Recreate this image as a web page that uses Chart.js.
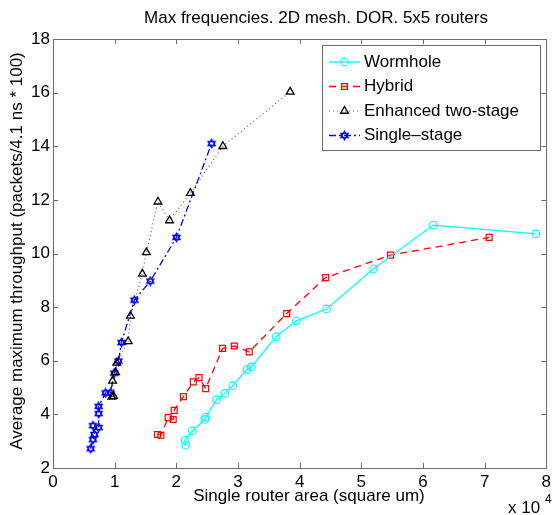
<!DOCTYPE html>
<html>
<head>
<meta charset="utf-8">
<script src="https://cdn.jsdelivr.net/npm/chart.js@4"></script>
<style>
  body { margin: 0; background: #fff; }
  #wrap { width: 555px; height: 515px; }
</style>
</head>
<body>
<div id="wrap"><canvas id="chart" width="555" height="515"></canvas></div>
<script>
// values (area in square um, throughput in packets/4.1ns*100)
const wormholeArea = [21530, 21420, 22600, 24640, 24760, 26530, 27870, 29160, 31460, 32170, 36200, 39470, 44360, 52000, 61670, 78320];
const wormholeThr = [2.85, 3.03, 3.38, 3.81, 3.90, 4.55, 4.78, 5.07, 5.68, 5.77, 6.90, 7.49, 7.93, 9.43, 11.06, 10.73];

const hybridArea = [16960, 17500, 18680, 19490, 19650, 21150, 22760, 23680, 24760, 27500, 29400, 31820, 37910, 44230, 54740, 70740];
const hybridThr = [3.25, 3.22, 3.88, 3.81, 4.15, 4.66, 5.21, 5.37, 4.96, 6.46, 6.55, 6.33, 7.76, 9.10, 9.94, 10.60];

const enhancedArea = [9540, 9820, 9660, 10140, 10350, 12190, 12560, 14490, 15140, 17020, 18890, 22280, 27550, 38460];
const enhancedThr = [4.65, 4.68, 5.25, 5.57, 5.92, 6.72, 7.67, 9.24, 10.04, 11.93, 11.23, 12.25, 14.00, 16.03];

const singleArea = [6110, 6480, 6710, 6480, 7400, 7400, 7400, 8530, 9330, 9930, 10620, 11100, 13200, 15780, 20020, 25730];
const singleThr = [2.72, 3.06, 3.25, 3.58, 3.51, 4.03, 4.30, 4.80, 4.80, 5.54, 5.99, 6.68, 8.26, 8.97, 10.60, 14.10];

const xTicks = [0, 1, 2, 3, 4, 5, 6, 7, 8];
const yTicks = [2, 4, 6, 8, 10, 12, 14, 16, 18];

const FONT = '"Liberation Sans", Arial, Helvetica, sans-serif';
const FS = 17;

function pts(xs, ys) {
  return xs.map((x, i) => ({ x: x, y: ys[i] }));
}

// hexagram marker like matlab 'h'
function hexagram(color) {
  const c = document.createElement('canvas');
  c.width = 11; c.height = 11;
  const g = c.getContext('2d');
  g.strokeStyle = color;
  g.lineWidth = 1.2;
  const r = 4.2, cx = 5.5, cy = 5.5;
  for (let t = 0; t < 2; t++) {
    g.beginPath();
    for (let k = 0; k < 3; k++) {
      const a = -Math.PI / 2 + t * Math.PI + k * 2 * Math.PI / 3;
      const px = cx + r * Math.cos(a), py = cy + r * Math.sin(a);
      if (k === 0) g.moveTo(px, py); else g.lineTo(px, py);
    }
    g.closePath();
    g.stroke();
  }
  return c;
}
const starImg = hexagram('#0000ff');

const datasets = [
  {
    label: 'Wormhole',
    data: pts(wormholeArea, wormholeThr),
    borderColor: '#00ffff',
    borderWidth: 1.3,
    pointStyle: 'circle',
    pointRadius: 3.8,
    pointBorderColor: '#00ffff',
    pointBackgroundColor: 'rgba(0,0,0,0)',
    pointBorderWidth: 1.2
  },
  {
    label: 'Hybrid',
    data: pts(hybridArea, hybridThr),
    borderColor: '#ff0000',
    borderWidth: 1.3,
    borderDash: [7, 5],
    pointStyle: 'rect',
    pointRadius: 4.2,
    pointBorderColor: '#ff0000',
    pointBackgroundColor: 'rgba(0,0,0,0)',
    pointBorderWidth: 1.2
  },
  {
    label: 'Enhanced two-stage',
    data: pts(enhancedArea, enhancedThr),
    borderColor: 'rgba(40,40,40,0.75)',
    borderWidth: 1.2,
    borderDash: [1, 3],
    pointStyle: 'triangle',
    pointRadius: 4.5,
    pointBorderColor: '#000',
    pointBackgroundColor: 'rgba(0,0,0,0)',
    pointBorderWidth: 1.3
  },
  {
    label: 'Single\u2013stage',
    data: pts(singleArea, singleThr),
    borderColor: '#0000ff',
    borderWidth: 1.3,
    borderDash: [7, 3, 2, 3],
    pointStyle: starImg,
    pointRadius: 4,
    pointBorderColor: '#0000ff',
    pointBackgroundColor: 'rgba(0,0,0,0)'
  }
];

const axisColor = '#6b6b6b';

const decorations = {
  id: 'decorations',
  afterDraw(chart) {
    const ctx = chart.ctx;
    const a = chart.chartArea;
    const xs = chart.scales.x, ys = chart.scales.y;
    ctx.save();

    // box
    ctx.strokeStyle = axisColor;
    ctx.lineWidth = 1;
    ctx.setLineDash([]);
    ctx.strokeRect(Math.round(a.left) + 0.5, Math.round(a.top) + 0.5,
      Math.round(a.right - a.left), Math.round(a.bottom - a.top));

    // inward ticks on all four sides
    const tl = 5;
    ctx.beginPath();
    xTicks.forEach(v => {
      const px = Math.round(xs.getPixelForValue(v * 10000)) + 0.5;
      ctx.moveTo(px, a.bottom); ctx.lineTo(px, a.bottom - tl);
      ctx.moveTo(px, a.top); ctx.lineTo(px, a.top + tl);
    });
    yTicks.forEach(v => {
      const py = Math.round(ys.getPixelForValue(v)) + 0.5;
      ctx.moveTo(a.left, py); ctx.lineTo(a.left + tl, py);
      ctx.moveTo(a.right, py); ctx.lineTo(a.right - tl, py);
    });
    ctx.stroke();

    // titles
    ctx.fillStyle = '#000';
    ctx.font = FS + 'px ' + FONT;
    ctx.textAlign = 'center';
    ctx.textBaseline = 'middle';
    ctx.fillText('Max frequencies. 2D mesh. DOR. 5x5 routers', 316, 18);
    ctx.fillText('Single router area (square um)', 309, 496);

    ctx.save();
    ctx.translate(17, 251);
    ctx.rotate(-Math.PI / 2);
    ctx.fillText('Average maximum throughput (packets/4.1 ns * 100)', 0, 0);
    ctx.restore();

    // exponent
    ctx.textAlign = 'left';
    ctx.textBaseline = 'alphabetic';
    ctx.fillText('x 10', 508, 513);
    ctx.font = '12px ' + FONT;
    ctx.fillText('4', 545, 503);

    // legend
    const lx = 322, ly = 45, lw = 218, lh = 105;
    ctx.fillStyle = '#fff';
    ctx.fillRect(lx, ly, lw, lh);
    ctx.strokeStyle = axisColor;
    ctx.lineWidth = 1;
    ctx.strokeRect(lx + 0.5, ly + 0.5, lw, lh);
    chart.data.datasets.forEach((ds, i) => {
      const y = ly + 17 + i * 24.5;
      ctx.save();
      ctx.strokeStyle = ds.borderColor;
      ctx.lineWidth = ds.borderWidth;
      ctx.setLineDash(ds.borderDash || []);
      ctx.beginPath();
      ctx.moveTo(329, y); ctx.lineTo(360, y);
      ctx.stroke();
      ctx.setLineDash([]);
      ctx.strokeStyle = ds.pointBorderColor;
      ctx.fillStyle = 'rgba(0,0,0,0)';
      ctx.lineWidth = ds.pointBorderWidth || 1;
      Chart.helpers.drawPoint(ctx, {
        pointStyle: ds.pointStyle,
        radius: ds.pointRadius,
        rotation: 0,
        borderWidth: ds.pointBorderWidth || 1
      }, 344.5, y);
      ctx.restore();
      ctx.fillStyle = '#000';
      ctx.font = FS + 'px ' + FONT;
      ctx.textBaseline = 'middle';
      ctx.fillText(ds.label, 364, y);
    });

    ctx.restore();
  }
};

const config = {
  type: 'scatter',
  data: { datasets: datasets },
  options: {
    responsive: false,
    devicePixelRatio: 1,
    animation: false,
    showLine: true,
    layout: { padding: { top: 39, right: 6, left: 0, bottom: 0 } },
    plugins: {
      legend: { display: false },
      title: { display: false },
      tooltip: { enabled: false }
    },
    scales: {
      x: {
        type: 'linear',
        min: 0,
        max: 80000,
        afterFit: s => { s.height = 47; },
        afterBuildTicks: s => { s.ticks = xTicks.map(v => ({ value: v * 10000 })); },
        grid: { display: false, drawTicks: false },
        border: { display: false },
        ticks: {
          padding: 4,
          maxRotation: 0,
          autoSkip: false,
          color: '#000',
          font: { family: FONT, size: FS },
          callback: v => String(v / 10000)
        }
      },
      y: {
        type: 'linear',
        min: 2,
        max: 18,
        afterFit: s => { s.width = 53; },
        afterBuildTicks: s => { s.ticks = yTicks.map(v => ({ value: v })); },
        grid: { display: false, drawTicks: false },
        border: { display: false },
        ticks: {
          padding: 3,
          autoSkip: false,
          color: '#000',
          font: { family: FONT, size: FS },
          callback: v => String(v)
        }
      }
    }
  },
  plugins: [decorations]
};

const mainChart = new Chart(document.getElementById('chart'), config);
</script>
</body>
</html>
